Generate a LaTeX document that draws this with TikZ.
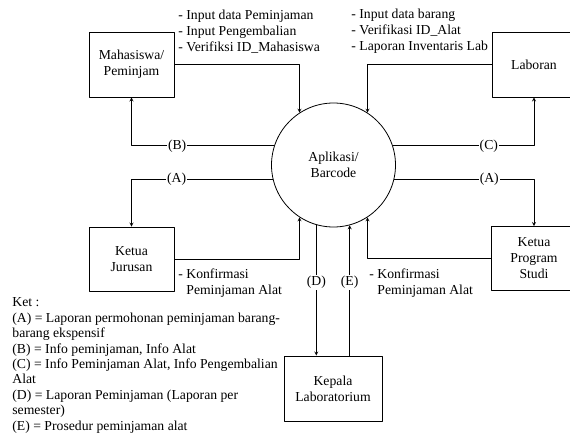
\documentclass[tikz,border=0pt]{standalone}
\usepackage{fontspec}
\setmainfont{Liberation Serif}
\tikzset{
	kotak/.style={draw,rectangle,align=center,minimum width=85pt,minimum height=65pt},
	teks/.style={align=left,inner sep=0pt,anchor=west},
	lbl/.style={fill=white,inner sep=1pt},
}
\begin{document}
\begin{tikzpicture}[>=stealth,line join=round,line cap=round,x=1pt,y=-1pt,line width=0.8pt,font=\fontsize{13.7}{16}\selectfont]
			\useasboundingbox (0,0) rectangle (570,444);
			\node[kotak](mhs) at (131.5,64.5) {Mahasiswa/\\Peminjam};
			\node[kotak,minimum width=84pt](lab) at (534,64.5) {Laboran};
			\node[kotak,minimum height=64pt](kj) at (131.5,259) {Ketua\\Jurusan};
			\node[kotak,minimum height=64pt](kps) at (534,258.5) {Ketua\\Program\\Studi};
			\node[kotak,minimum width=98pt](kep) at (333,388.5) {Kepala\\Laboratorium};
			\node[draw,circle,minimum size=124pt,align=center](apl) at (333.5,165) {Aplikasi/\\Barcode};
			\draw[->] (mhs.east)-|(apl.123);
			\draw[->] (lab.west)-|(apl.57);
			\draw[->] (apl.162)-|(mhs.south)node[lbl,pos=0.34]{(B)};
			\draw[->] (apl.18)-|(lab.south)node[lbl,pos=0.34]{(C)};
			\draw[->] (apl.193)-|(kj.north)node[lbl,pos=0.34]{(A)};
			\draw[->] (apl.-13)-|(kps.north)node[lbl,pos=0.34]{(A)};
			\draw[->] (kj.east)-|(apl.237);
			\draw[->] (kps.west)-|(apl.303);
			\draw[->] (apl.254)--(apl.254|-kep.north)node[lbl,pos=0.44]{(D)};
			\draw[->] (apl.285|-kep.north)--(apl.285)node[lbl,pos=0.56]{(E)};
			\node[teks](in1) at (178,31.5) {- Input data Peminjaman\\- Input Pengembalian\\- Verifiksi ID\_Mahasiswa};
			\node[teks](in2) at (351,31.5) {- Input data barang\\- Verifikasi ID\_Alat\\- Laporan Inventaris Lab};
			\node[teks](kf1) at (178,283.5) {- Konfirmasi\\\phantom{- }Peminjaman Alat};
			\node[teks](kf2) at (369,283.5) {- Konfirmasi\\\phantom{- }Peminjaman Alat};
			\node[teks,font=\fontsize{13.7}{15.4}\selectfont](ket) at (12,365.5) {Ket :\\(A) = Laporan permohonan peminjaman barang-\\barang ekspensif\\(B) = Info peminjaman, Info Alat\\(C) = Info Peminjaman Alat, Info Pengembalian\\Alat\\(D) = Laporan Peminjaman (Laporan per\\semester)\\(E) = Prosedur peminjaman alat};
			\end{tikzpicture}
\end{document}
